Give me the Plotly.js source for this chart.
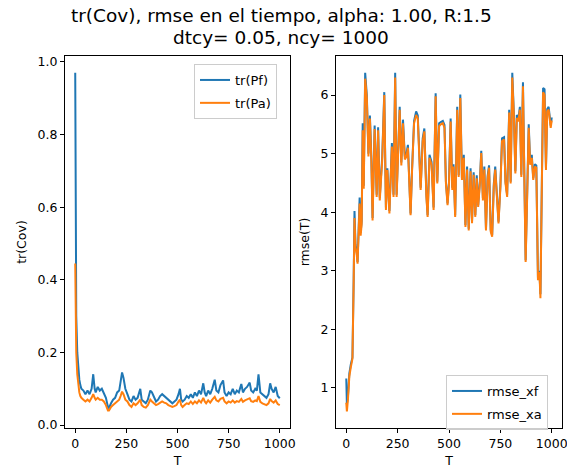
<!DOCTYPE html>
<html><head><meta charset="utf-8">
<script src="https://cdn.plot.ly/plotly-3.0.1.min.js"></script>
<style>html,body{margin:0;padding:0;background:#fff}#chart{width:567px;height:471px}</style>
</head><body><div id="chart"></div>
<script>
const titleLine1 = "tr(Cov), rmse en el tiempo, alpha: 1.00, R:1.5";
const titleLine2 = "dtcy= 0.05, ncy= 1000";

const tCov = [0,2,5,10,15,20,25,30,40,50,60,70,80,88,95,100,110,120,130,140,150,160,165,175,185,195,205,215,222,229,236,245,255,265,275,285,295,305,318,325,335,345,355,367,375,385,395,405,415,425,435,445,455,465,475,485,495,505,512,518,525,535,545,555,565,575,585,595,605,615,626,633,640,650,660,670,682,690,700,710,723,730,740,750,760,770,780,790,800,812,820,830,840,853,860,870,880,888,896,905,915,925,935,945,953,960,970,980,990,1000];
const trPf = [0.97,0.60,0.30,0.20,0.15,0.125,0.11,0.10,0.095,0.085,0.095,0.085,0.10,0.14,0.10,0.09,0.105,0.095,0.10,0.085,0.075,0.05,0.047,0.06,0.07,0.075,0.09,0.095,0.12,0.145,0.13,0.10,0.085,0.07,0.065,0.08,0.07,0.075,0.10,0.07,0.065,0.06,0.07,0.095,0.09,0.075,0.065,0.07,0.08,0.085,0.08,0.075,0.07,0.065,0.06,0.065,0.07,0.085,0.10,0.07,0.065,0.07,0.08,0.075,0.085,0.075,0.09,0.08,0.095,0.085,0.115,0.09,0.08,0.095,0.085,0.10,0.125,0.095,0.09,0.11,0.123,0.09,0.08,0.09,0.085,0.10,0.085,0.095,0.09,0.113,0.09,0.10,0.105,0.117,0.095,0.09,0.10,0.095,0.14,0.09,0.085,0.08,0.075,0.085,0.115,0.10,0.09,0.105,0.08,0.074];
const trPa = [0.445,0.30,0.20,0.14,0.11,0.09,0.08,0.075,0.07,0.065,0.07,0.065,0.075,0.085,0.075,0.07,0.075,0.07,0.07,0.065,0.055,0.04,0.04,0.05,0.055,0.06,0.065,0.07,0.08,0.092,0.085,0.07,0.065,0.055,0.05,0.06,0.055,0.06,0.07,0.055,0.05,0.048,0.055,0.07,0.065,0.06,0.055,0.058,0.062,0.065,0.062,0.06,0.055,0.052,0.05,0.052,0.055,0.065,0.07,0.055,0.05,0.055,0.06,0.058,0.065,0.058,0.065,0.06,0.068,0.062,0.075,0.065,0.06,0.068,0.062,0.07,0.078,0.068,0.065,0.072,0.075,0.065,0.06,0.065,0.062,0.068,0.062,0.066,0.064,0.072,0.064,0.068,0.07,0.074,0.066,0.064,0.068,0.066,0.08,0.064,0.06,0.058,0.055,0.06,0.072,0.066,0.062,0.068,0.058,0.055];

const tRmse = [0,3,8,15,22,30,36,40,45,50,55,60,65,70,75,80,85,92,100,108,115,122,128,138,148,155,163,175,185,193,200,210,222,230,238,245,252,260,268,276,285,293,300,308,313,320,330,340,348,356,362,372,380,390,396,405,415,425,435,443,452,460,470,478,485,493,500,508,516,522,530,540,547,555,563,572,580,588,596,605,612,620,628,635,642,650,657,665,672,680,688,695,703,710,718,725,733,741,750,758,768,775,783,793,800,808,816,823,830,838,845,852,860,867,873,880,888,895,903,910,918,925,933,940,945,952,958,965,972,978,985,995,1000];
const rmseXa = [0.75,0.60,0.80,1.20,1.35,1.50,2.80,3.90,3.40,3.30,3.12,3.60,4.15,3.60,3.80,5.40,4.40,6.28,5.95,4.95,5.60,4.90,3.86,5.42,4.26,5.40,4.20,4.90,6.00,4.04,4.72,3.98,5.12,4.26,6.30,4.26,5.15,5.75,4.80,5.52,4.90,4.95,5.10,4.43,3.95,4.69,5.52,5.66,5.60,4.90,4.38,5.21,5.38,4.26,3.92,4.93,4.81,4.04,5.98,4.49,5.47,5.50,5.52,5.44,4.49,4.12,4.49,5.55,4.38,4.78,3.92,5.75,4.60,5.95,4.55,4.93,3.75,4.73,3.69,4.70,3.81,4.64,3.92,4.58,4.09,4.47,5.01,4.20,4.73,3.69,4.58,4.76,3.67,3.58,4.44,4.73,4.20,3.81,4.41,5.21,5.24,4.49,4.26,5.70,4.49,6.30,5.61,4.66,5.61,5.55,5.75,4.60,6.15,4.20,3.15,4.20,5.44,4.81,4.93,4.55,4.78,4.76,2.84,2.98,2.53,4.49,6.05,6.00,4.72,5.72,5.75,5.44,5.57];
const rmseXf = [1.16,0.72,0.85,1.25,1.40,1.52,2.85,4.02,3.45,3.35,3.15,3.65,4.25,3.65,3.85,5.52,4.45,6.38,6.00,5.00,5.65,4.95,3.90,5.48,4.30,5.45,4.25,4.95,6.05,4.08,4.75,4.02,5.18,4.30,6.38,4.30,5.20,5.80,4.85,5.58,4.95,5.00,5.15,4.48,3.98,4.72,5.56,5.72,5.65,4.95,4.42,5.26,5.43,4.30,3.95,4.98,4.86,4.08,6.03,4.52,5.52,5.54,5.56,5.49,4.52,4.15,4.52,5.60,4.42,4.82,3.95,5.80,4.63,6.01,4.58,4.98,3.78,4.78,3.72,4.75,3.84,4.68,3.95,4.63,4.12,4.51,5.05,4.24,4.78,3.72,4.62,4.80,3.70,3.61,4.48,4.78,4.24,3.84,4.45,5.26,5.28,4.52,4.30,5.75,4.52,6.38,5.65,4.70,5.66,5.60,5.80,4.64,6.22,4.24,3.18,4.24,5.50,4.85,4.98,4.58,4.82,4.80,2.88,3.00,2.60,4.52,6.12,6.10,4.76,5.76,5.80,5.48,5.62];

const xTicks = [0,250,500,750,1000];
const yTicksCov = [0.0,0.2,0.4,0.6,0.8,1.0];
const yTicksRmse = [1,2,3,4,5,6];

const W = 567, H = 471;
const FONT = "DejaVu Sans, Liberation Sans, sans-serif";
const BLUE = "#1f77b4", ORANGE = "#ff7f0e";

function px(x){return x/W;}
function py(y){return 1 - y/H;}

const axBase = {
  showline:true, mirror:true, linecolor:"#000", linewidth:1,
  ticks:"outside", ticklen:4, tickwidth:1, tickcolor:"#000",
  showgrid:false, zeroline:false, ticklabeloverflow:"allow",
  tickfont:{family:FONT,size:12.5,color:"#000"}
};

const traces = [
  {x:tCov, y:trPf, type:"scatter", mode:"lines", name:"tr(Pf)", line:{color:BLUE,width:2}, xaxis:"x", yaxis:"y", legend:"legend", legendgroup:"a"},
  {x:tCov, y:trPa, type:"scatter", mode:"lines", name:"tr(Pa)", line:{color:ORANGE,width:2}, xaxis:"x", yaxis:"y", legend:"legend", legendgroup:"b"},
  {x:tRmse, y:rmseXf, type:"scatter", mode:"lines", name:"rmse_xf", line:{color:BLUE,width:2}, xaxis:"x2", yaxis:"y2", legend:"legend2", legendgroup:"c"},
  {x:tRmse, y:rmseXa, type:"scatter", mode:"lines", name:"rmse_xa", line:{color:ORANGE,width:2}, xaxis:"x2", yaxis:"y2", legend:"legend2", legendgroup:"d"}
];

const legBase = {
  bgcolor:"rgba(255,255,255,0.8)", bordercolor:"#cccccc", borderwidth:1,
  font:{family:FONT,size:13,color:"#000"}, xanchor:"left", yanchor:"top",
  traceorder:"grouped", tracegroupgap:3, itemwidth:30
};

const layout = {
  width:W, height:H, margin:{l:0,r:0,t:0,b:0},
  paper_bgcolor:"#fff", plot_bgcolor:"#fff",
  font:{family:FONT,color:"#000"},
  showlegend:true,
  xaxis:Object.assign({}, axBase, {domain:[px(65),px(290)], range:[-50,1050], tickvals:xTicks, ticktext:xTicks.map(String), anchor:"y",
    title:{text:"T", font:{family:FONT,size:12.5,color:"#000"}, standoff:6}}),
  yaxis:Object.assign({}, axBase, {domain:[py(428),py(56)], range:[-0.008,1.016], tickvals:yTicksCov, ticktext:yTicksCov.map(v=>v.toFixed(1)), anchor:"x",
    title:{text:"tr(Cov)", font:{family:FONT,size:12.5,color:"#000"}, standoff:8}}),
  xaxis2:Object.assign({}, axBase, {domain:[px(336),px(562)], range:[-50,1050], tickvals:xTicks, ticktext:xTicks.map(String), anchor:"y2",
    title:{text:"T", font:{family:FONT,size:12.5,color:"#000"}, standoff:6}}),
  yaxis2:Object.assign({}, axBase, {domain:[py(428),py(56)], range:[0.316,6.667], tickvals:yTicksRmse, ticktext:yTicksRmse.map(String), anchor:"x2",
    title:{text:"rmse(T)", font:{family:FONT,size:12.5,color:"#000"}, standoff:8}}),
  legend:Object.assign({}, legBase, {x:px(194), y:py(64)}),
  legend2:Object.assign({}, legBase, {x:px(446), y:py(375)}),
  annotations:[
    {text:titleLine1, xref:"paper", yref:"paper", x:px(281), y:py(16), xanchor:"center", yanchor:"middle", showarrow:false, font:{family:FONT,size:18.5,color:"#000"}},
    {text:titleLine2, xref:"paper", yref:"paper", x:px(281), y:py(38), xanchor:"center", yanchor:"middle", showarrow:false, font:{family:FONT,size:18.5,color:"#000"}}
  ]
};

Plotly.newPlot("chart", traces, layout, {displayModeBar:false, staticPlot:true});
</script>
</body></html>
